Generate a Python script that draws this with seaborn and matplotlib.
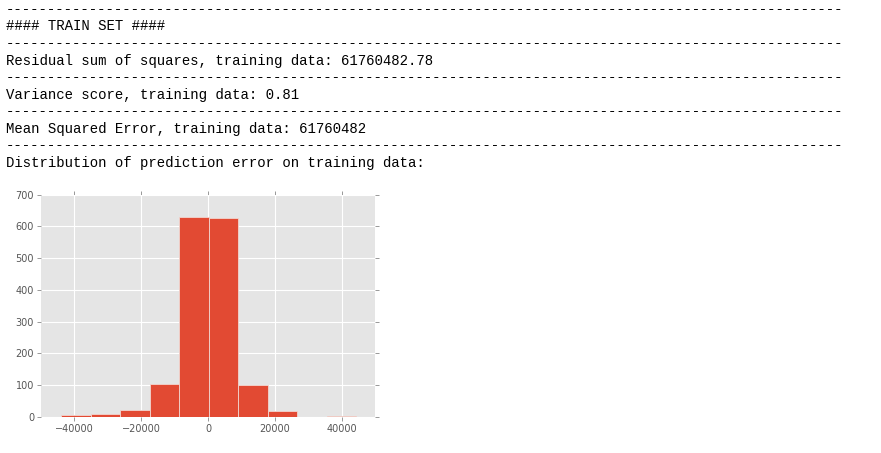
import matplotlib
matplotlib.use("Agg")
import matplotlib.pyplot as plt
import seaborn as sns
import numpy as np

# printed notebook output above the histogram
header_lines = [
    "#### TRAIN SET ####",
    "Residual sum of squares, training data: 61760482.78",
    "Variance score, training data: 0.81",
    "Mean Squared Error, training data: 61760482",
    "Distribution of prediction error on training data:",
]

# histogram of prediction errors
bin_edges = [-43900, -35070, -26240, -17410, -8580, 250, 9080, 17910, 26740, 35570, 44400]
bin_counts = [7, 10, 21, 105, 628, 625, 102, 20, 0, 2]
x_ticks = [-40000, -20000, 0, 20000, 40000]
y_ticks = [0, 100, 200, 300, 400, 500, 600, 700]

sns.set_style("darkgrid", {
    "axes.facecolor": "#E5E5E5",
    "grid.color": "white",
    "axes.edgecolor": "white",
    "xtick.bottom": True, "xtick.top": True,
    "ytick.left": True, "ytick.right": True,
    "xtick.direction": "out", "ytick.direction": "out",
    "xtick.color": "#555555", "ytick.color": "#555555",
})

fig = plt.figure(figsize=(8.81, 4.53), dpi=100)
W, H = 881, 453

dash = "-" * 100
lines = []
for t in header_lines:
    lines.append(dash)
    lines.append(t)
for i, t in enumerate(lines):
    fig.text(6 / W, 1 - (13.5 + 17 * i) / H, t, family="Liberation Mono",
             fontsize=10.1, color="black", va="baseline", ha="left")

ax = fig.add_axes([41 / W, 1 - 417 / H, 334 / W, 222.5 / H])
centers = [(a + b) / 2 for a, b in zip(bin_edges[:-1], bin_edges[1:])]
sns.histplot(x=centers, weights=bin_counts, bins=bin_edges, ax=ax,
             color="#E24A33", alpha=1, edgecolor="#F2D6D0", linewidth=0.6)
ax.set_xlim(-50000, 50000)
ax.set_ylim(0, 700)
ax.set_xticks(x_ticks)
ax.set_yticks(y_ticks)
ax.set_xlabel("")
ax.set_ylabel("")
ax.grid(True, color="white", linewidth=0.8)
ax.set_axisbelow(True)
ax.tick_params(axis="both", which="both", labelsize=7, length=3, width=0.6,
               colors="#888888", labelcolor="#555555", pad=2)
for s in ax.spines.values():
    s.set_visible(False)

fig.savefig("out.png", dpi=100, facecolor="white")
